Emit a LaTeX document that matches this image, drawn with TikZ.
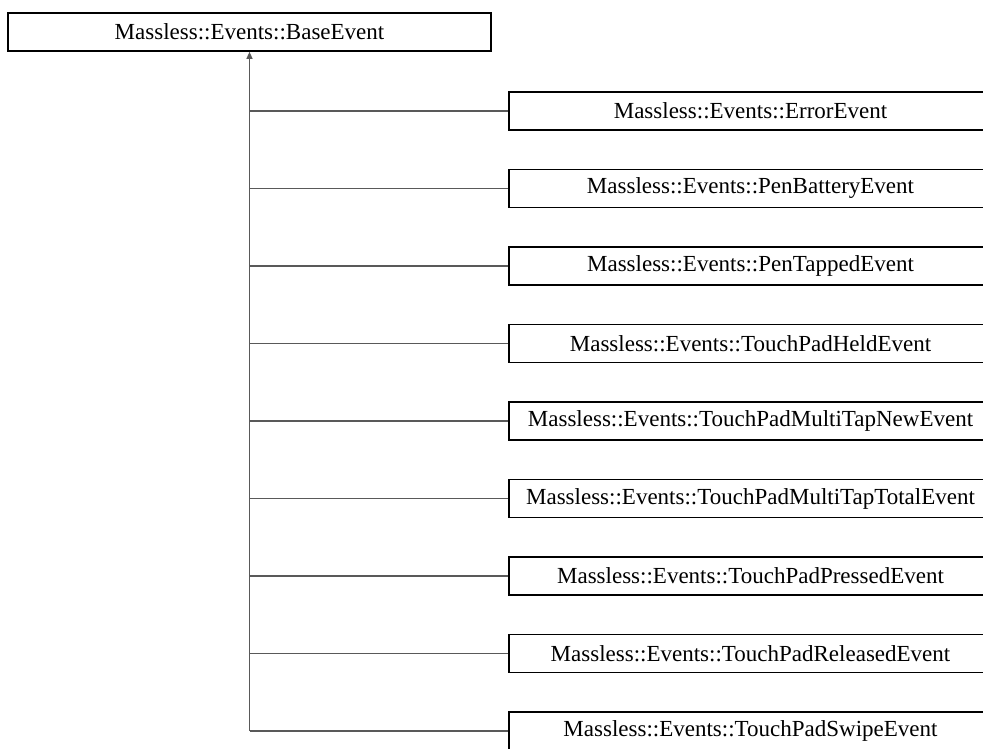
\documentclass[tikz,border=0pt]{standalone}
\usepackage{fontspec}
\setmainfont{Liberation Serif}
\usepackage{tikz}
\usetikzlibrary{arrows.meta}
\tikzstyle{classbox}=[rectangle,draw=black,fill=white,line width=1.6pt,
                      inner sep=0pt,minimum width=483pt,minimum height=38pt,
                      font=\fontsize{23}{27}\selectfont]
\tikzstyle{link}=[draw=black!65,line width=1.1pt]

\begin{document}
\begin{tikzpicture}[x=1pt,y=-1pt]
    \newcommand{\rowgap}{77.5}
    \clip (0,0) rectangle (983,749);
    \node (base) at (249.5,32) [classbox]{Massless::Events::BaseEvent};
    \foreach \n/\name in {0/ErrorEvent,1/PenBatteryEvent,2/PenTappedEvent,
        3/TouchPadHeldEvent,4/TouchPadMultiTapNewEvent,
        5/TouchPadMultiTapTotalEvent,6/TouchPadPressedEvent,
        7/TouchPadReleasedEvent,8/TouchPadSwipeEvent}{
      \node (ev\n) at (750.5,111+\n*\rowgap) [classbox]{Massless::Events::\name};
      \draw[link] (ev\n.west) -- (ev\n.west -| base.south);
    }
    \draw[link,-{Triangle[length=7pt,width=6pt]}] (ev8.west -| base.south) -- (base.south);
  \end{tikzpicture}
\end{document}
